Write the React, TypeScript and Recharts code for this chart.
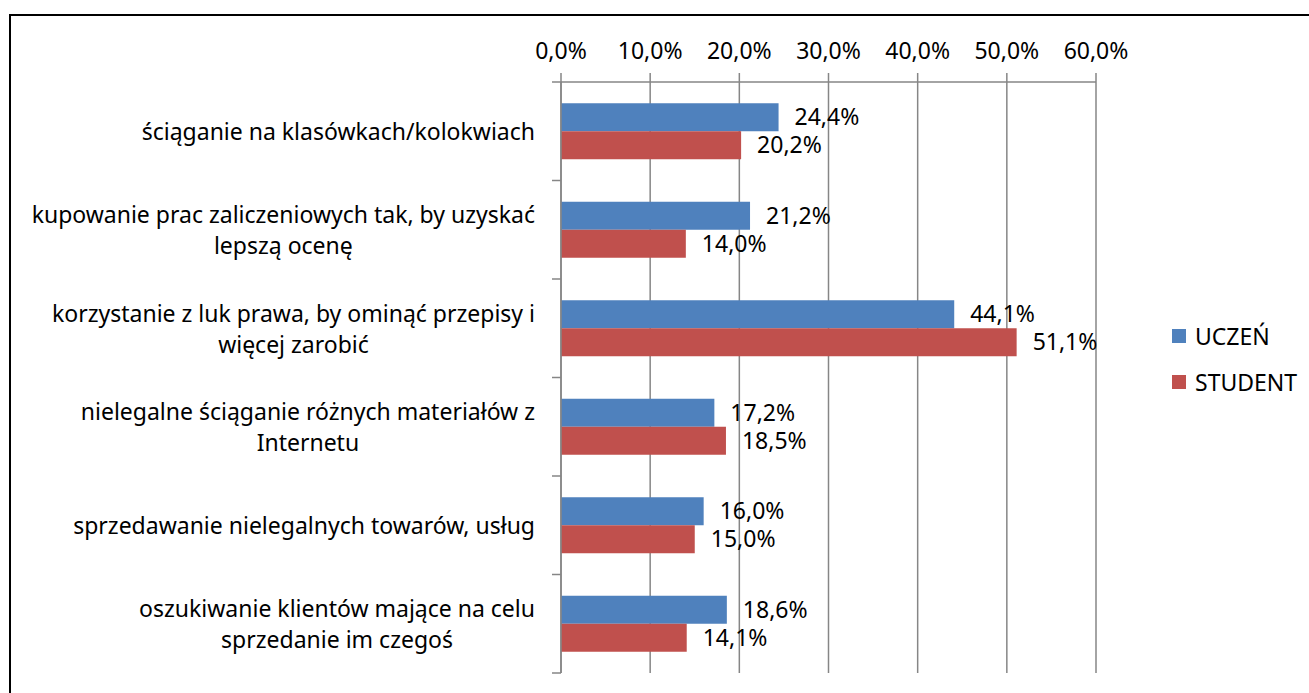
import React from "react";
import { BarChart, Bar, XAxis, YAxis, CartesianGrid, Legend, LabelList } from "recharts";

const categories: string[][] = [
  ["ściąganie na klasówkach/kolokwiach"],
  ["kupowanie prac zaliczeniowych tak, by uzyskać", "lepszą ocenę"],
  ["korzystanie z luk prawa, by ominąć przepisy i", "więcej zarobić"],
  ["nielegalne ściąganie różnych materiałów z", "Internetu"],
  ["sprzedawanie nielegalnych towarów, usług"],
  ["oszukiwanie klientów mające na celu", "sprzedanie im czegoś"],
];
const uczen = [24.4, 21.2, 44.1, 17.2, 16.0, 18.6];
const student = [20.2, 14.0, 51.1, 18.5, 15.0, 14.1];
const xTicks = [0, 10, 20, 30, 40, 50, 60];

const data = categories.map((lines, i) => ({
  name: lines.join(" "),
  lines,
  uczen: uczen[i],
  student: student[i],
}));

const FONT = "'Noto Sans', sans-serif";
const FONT_SIZE = 23;
const GRID = "#868686";
const BLUE = "#4F81BD";
const RED = "#C0504D";

const CHART_W = 1309;
const CHART_H = 693;
const TOP = 82;
const BOTTOM = 20;
const LEFT = 561;
const RIGHT = 213;
const BAND = (CHART_H - TOP - BOTTOM) / categories.length;

let ctx: CanvasRenderingContext2D | null = null;
const measure = (s: string) => {
  if (!ctx) {
    ctx = document.createElement("canvas").getContext("2d");
  }
  if (!ctx) return s.length * 11;
  ctx.font = `${FONT_SIZE}px 'Noto Sans'`;
  return ctx.measureText(s).width;
};

const fmt = (v: number) => v.toFixed(1).replace(".", ",") + "%";

const CategoryTick = (props: any) => {
  const { y, payload, index } = props;
  const idx = payload.index ?? index;
  const lines: string[] = data[idx]?.lines ?? [String(payload.value)];
  const maxW = Math.max(...lines.map(measure));
  const right = 535;
  const cx = right - maxW / 2;
  const lh = 31;
  const startY = y - ((lines.length - 1) * lh) / 2;
  return (
    <g>
      {lines.map((l, i) => (
        <text
          key={i}
          x={cx}
          y={startY + i * lh}
          textAnchor="middle"
          dominantBaseline="central"
          fontFamily={FONT}
          fontSize={FONT_SIZE}
          fill="#000"
        >
          {l}
        </text>
      ))}
      {idx === 0 && (
        <line x1={LEFT - 9} x2={LEFT} y1={y - BAND / 2} y2={y - BAND / 2} stroke={GRID} strokeWidth={1.5} />
      )}
      <line x1={LEFT - 9} x2={LEFT} y1={y + BAND / 2} y2={y + BAND / 2} stroke={GRID} strokeWidth={1.5} />
    </g>
  );
};

const LegendContent = () => (
  <div style={{ fontFamily: FONT, fontSize: FONT_SIZE, color: "#000" }}>
    {[
      { label: "UCZEŃ", color: BLUE },
      { label: "STUDENT", color: RED },
    ].map((it) => (
      <div key={it.label} style={{ display: "flex", alignItems: "center", height: 46 }}>
        <span style={{ width: 14, height: 14, background: it.color, marginRight: 9, display: "inline-block" }} />
        <span>{it.label}</span>
      </div>
    ))}
  </div>
);

export default function App() {
  return (
    <div style={{ position: "fixed", left: 0, top: 0, width: CHART_W, height: CHART_H, overflow: "hidden", background: "#fff" }}>
      <div
        style={{
          position: "absolute",
          left: 9,
          top: 14,
          width: 1400,
          height: 800,
          border: "2px solid #000",
          boxSizing: "border-box",
        }}
      />
      <div style={{ position: "absolute", left: 0, top: 0 }}>
        <BarChart
          width={CHART_W}
          height={CHART_H}
          data={data}
          layout="vertical"
          margin={{ top: 0, right: RIGHT, bottom: BOTTOM, left: 0 }}
          barCategoryGap="21.5%"
          barGap={0}
        >
          <CartesianGrid horizontal={false} stroke={GRID} strokeWidth={1.5} />
          <XAxis
            type="number"
            orientation="top"
            domain={[0, 60]}
            ticks={xTicks}
            tickFormatter={fmt}
            height={TOP}
            tickSize={9}
            tickMargin={14}
            stroke={GRID}
            strokeWidth={1.5}
            tick={{ fill: "#000", fontFamily: FONT, fontSize: FONT_SIZE }}
            interval={0}
          />
          <YAxis
            type="category"
            dataKey="name"
            width={LEFT}
            tickLine={false}
            stroke={GRID}
            strokeWidth={1.5}
            tick={<CategoryTick />}
            interval={0}
          />
          <Legend
            layout="horizontal"
            align="center"
            verticalAlign="middle"
            content={<LegendContent />}
            wrapperStyle={{ left: 1172, top: 313, width: 135, height: 92 }}
          />
          <Bar dataKey="uczen" name="UCZEŃ" fill={BLUE} isAnimationActive={false}>
            <LabelList
              dataKey="uczen"
              position="right"
              offset={16}
              formatter={(v: any) => fmt(Number(v))}
              style={{ fill: "#000", fontFamily: FONT, fontSize: FONT_SIZE }}
            />
          </Bar>
          <Bar dataKey="student" name="STUDENT" fill={RED} isAnimationActive={false}>
            <LabelList
              dataKey="student"
              position="right"
              offset={16}
              formatter={(v: any) => fmt(Number(v))}
              style={{ fill: "#000", fontFamily: FONT, fontSize: FONT_SIZE }}
            />
          </Bar>
        </BarChart>
      </div>
    </div>
  );
}
